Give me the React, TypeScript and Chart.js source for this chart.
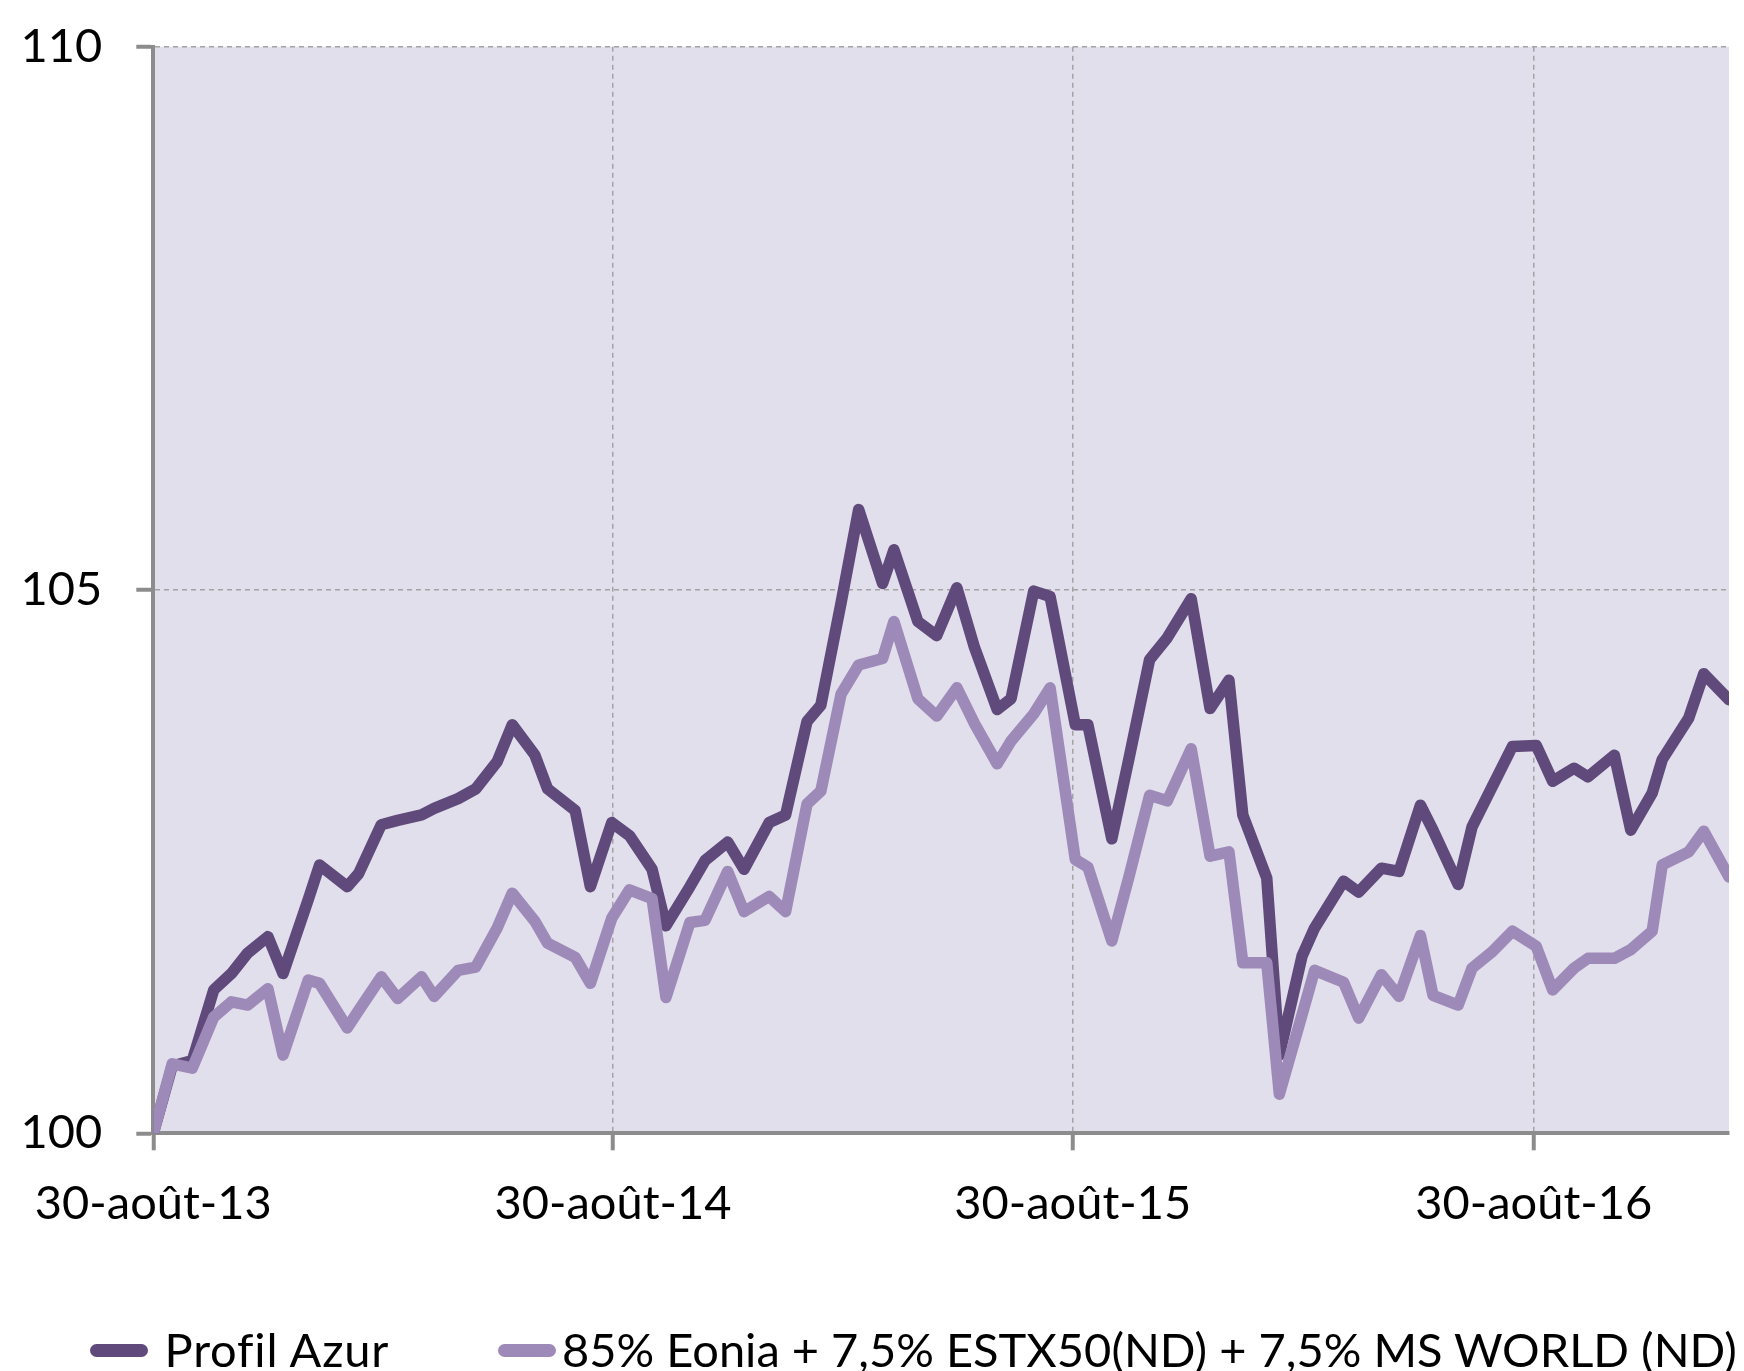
import React, { useEffect, useRef } from 'react';
import { Chart, registerables } from 'chart.js';

Chart.register(...registerables);

// Days elapsed since 30-août-13 for each valuation point
const dayOffsets = [
  0, 15, 31, 48, 62, 75, 91, 103, 123, 132, 154, 163, 181, 194, 213, 223, 242, 256, 273, 285,
  303, 313, 335, 347, 364, 378, 396, 407, 426, 438, 456, 469, 489, 502, 519, 530, 546, 560, 579, 588,
  607, 622, 638, 652, 670, 681, 699, 712, 732, 742, 761, 775, 791, 805, 824, 839, 854, 865, 884, 894,
  912, 922, 945, 957, 975, 989, 1006, 1016, 1036, 1047, 1063, 1079, 1098, 1111, 1128, 1139, 1160, 1173, 1190, 1198,
  1219, 1231, 1251,
];

const profilAzur = [
  100.0, 100.62, 100.67, 101.32, 101.47, 101.66, 101.81, 101.47, 102.15, 102.47, 102.27, 102.39, 102.84, 102.88, 102.93, 102.99, 103.08, 103.17, 103.42, 103.76,
  103.48, 103.17, 102.97, 102.27, 102.86, 102.74, 102.43, 101.91, 102.27, 102.51, 102.68, 102.43, 102.86, 102.93, 103.79, 103.94, 104.88, 105.74, 105.06, 105.37,
  104.71, 104.58, 105.02, 104.47, 103.9, 104.0, 104.99, 104.94, 103.76, 103.76, 102.71, 103.47, 104.36, 104.56, 104.92, 103.91, 104.17, 102.93, 102.35, 100.72,
  101.63, 101.89, 102.32, 102.22, 102.44, 102.41, 103.02, 102.79, 102.29, 102.82, 103.19, 103.56, 103.57, 103.24, 103.36, 103.28, 103.48, 102.79, 103.13, 103.44,
  103.82, 104.23, 103.99,
];

const benchmark = [
  100.0, 100.64, 100.6, 101.07, 101.21, 101.18, 101.33, 100.72, 101.41, 101.38, 100.97, 101.13, 101.44, 101.24, 101.44, 101.26, 101.5, 101.53, 101.89, 102.21,
  101.95, 101.75, 101.62, 101.38, 101.98, 102.24, 102.16, 101.25, 101.94, 101.96, 102.41, 102.04, 102.18, 102.04, 103.03, 103.15, 104.04, 104.31, 104.37, 104.71,
  104.0, 103.84, 104.1, 103.77, 103.4, 103.61, 103.86, 104.1, 102.52, 102.45, 101.77, 102.38, 103.11, 103.06, 103.54, 102.55, 102.59, 101.57, 101.57, 100.36,
  101.09, 101.5, 101.39, 101.06, 101.46, 101.26, 101.82, 101.27, 101.18, 101.52, 101.67, 101.86, 101.72, 101.32, 101.52, 101.61, 101.61, 101.69, 101.86, 102.47,
  102.59, 102.78, 102.36,
];

const seriesNames = ['Profil Azur', '85% Eonia + 7,5% ESTX50(ND) + 7,5% MS WORLD (ND)'];
const xTickDays = [0, 365, 730, 1096];
const xTickLabels = ['30-août-13', '30-août-14', '30-août-15', '30-août-16'];
const yMin = 100;
const yMax = 110;
const yStep = 5;

const DARK = '#604A7B';
const LIGHT = '#9E8AB8';
const PLOT_BG = '#E2DFEC';
const AXIS = '#8C8C8C';
const GRID = '#A3A3A3';
const FONT = 'Lato';
const FONT_SIZE = 47;

const W = 1744;
const H = 1371;
const AREA_LEFT = 153.3;
const AREA_RIGHT = 1729;
const AREA_TOP = 46.7;
const AREA_BOTTOM = 1133.3;

export default function App() {
  const ref = useRef<HTMLCanvasElement>(null);

  useEffect(() => {
    if (!ref.current) return;
    Chart.defaults.font.family = FONT;
    const bgPlugin = {
      id: 'plotBg',
      beforeDraw(chart: any) {
        const { ctx, chartArea: a } = chart;
        ctx.save();
        ctx.fillStyle = PLOT_BG;
        ctx.fillRect(a.left, a.top, a.right - a.left, a.bottom - a.top);
        ctx.restore();
      },
    };
    const lineStyle = {
      borderWidth: 11.5,
      pointRadius: 0,
      pointHoverRadius: 0,
      borderJoinStyle: 'round' as const,
      borderCapStyle: 'round' as const,
      tension: 0,
      fill: false,
      clip: 0,
    };
    const chart = new Chart(ref.current, {
      type: 'line',
      data: {
        datasets: [
          {
            label: seriesNames[1],
            data: dayOffsets.map((d, i) => ({ x: d, y: benchmark[i] })),
            borderColor: LIGHT,
            backgroundColor: LIGHT,
            ...lineStyle,
          },
          {
            label: seriesNames[0],
            data: dayOffsets.map((d, i) => ({ x: d, y: profilAzur[i] })),
            borderColor: DARK,
            backgroundColor: DARK,
            ...lineStyle,
          },
        ],
      },
      options: {
        responsive: false,
        animation: false,
        events: [],
        layout: { padding: { left: 0, right: W - AREA_RIGHT, top: AREA_TOP, bottom: 0 } },
        plugins: { legend: { display: false }, tooltip: { enabled: false } },
        scales: {
          x: {
            type: 'linear',
            min: dayOffsets[0],
            max: dayOffsets[dayOffsets.length - 1],
            afterBuildTicks: (s: any) => {
              s.ticks = xTickDays.map((v) => ({ value: v }));
            },
            afterFit: (s: any) => {
              s.height = H - AREA_BOTTOM;
              s.paddingLeft = 0;
              s.paddingRight = 0;
            },
            ticks: {
              autoSkip: false,
              maxRotation: 0,
              minRotation: 0,
              padding: 25,
              color: '#000',
              font: { family: FONT, size: FONT_SIZE },
              callback: (v: any) => {
                const i = xTickDays.indexOf(Number(v));
                return i >= 0 ? xTickLabels[i] : '';
              },
            },
            grid: { color: GRID, lineWidth: 1.5, tickLength: 17, tickColor: AXIS, tickWidth: 4 },
            border: { color: AXIS, width: 4, dash: [5, 4] },
          },
          y: {
            type: 'linear',
            min: yMin,
            max: yMax,
            afterFit: (s: any) => {
              s.width = AREA_LEFT;
              s.paddingTop = 0;
              s.paddingBottom = 0;
            },
            ticks: {
              stepSize: yStep,
              padding: 34,
              color: '#000',
              font: { family: FONT, size: FONT_SIZE },
            },
            grid: { color: GRID, lineWidth: 1.5, tickLength: 17, tickColor: AXIS, tickWidth: 4 },
            border: { color: AXIS, width: 4, dash: [5, 4] },
          },
        },
      },
      plugins: [bgPlugin],
    } as any);
    return () => chart.destroy();
  }, []);

  const textStyle = (left: number): React.CSSProperties => ({
    position: 'absolute',
    left,
    top: 1320.6,
    fontFamily: FONT,
    fontSize: FONT_SIZE,
    lineHeight: 1.2,
    color: '#000',
    whiteSpace: 'nowrap',
  });
  const swatch = (left: number, color: string): React.CSSProperties => ({
    position: 'absolute',
    left,
    top: 1344,
    width: 58,
    height: 13,
    borderRadius: 7,
    background: color,
  });

  return (
    <div style={{ position: 'absolute', left: 0, top: 0, width: W, height: H, overflow: 'hidden', background: '#fff' }}>
      <canvas ref={ref} width={W} height={H} style={{ display: 'block', width: W, height: H }} />
      <div style={swatch(90, DARK)} />
      <div style={{ ...textStyle(164.6), letterSpacing: 0.8 }}>{seriesNames[0]}</div>
      <div style={swatch(498, LIGHT)} />
      <div style={textStyle(562)}>{seriesNames[1]}</div>
    </div>
  );
}
